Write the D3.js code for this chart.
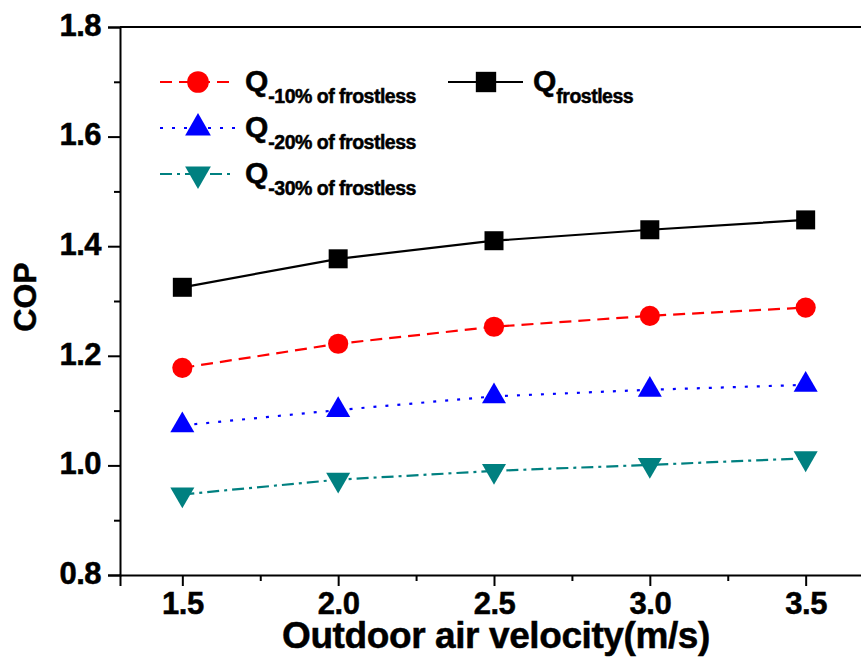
<!DOCTYPE html>
<html>
<head>
<meta charset="utf-8">
<script src="https://cdn.jsdelivr.net/npm/d3@7/dist/d3.min.js"></script>
<style>
  html, body { margin: 0; padding: 0; background: #fff; }
  svg { display: block; font-family: "Liberation Sans", Arial, sans-serif; }
  text { stroke: currentColor; stroke-width: 0.5px; }
</style>
</head>
<body>
<svg id="chart" width="861" height="660"></svg>
<script>
// Outdoor air velocity (m/s)
const velocity = [1.5, 2.0, 2.5, 3.0, 3.5];
// COP for each heat-capacity case
const copFrostless = [1.325, 1.377, 1.410, 1.430, 1.448];
const cop10 = [1.178, 1.222, 1.253, 1.273, 1.288];
const cop20 = [1.073, 1.101, 1.126, 1.138, 1.147];
const cop30 = [0.947, 0.974, 0.990, 1.001, 1.013];

const xTicks = [1.5, 2.0, 2.5, 3.0, 3.5];
const xMinorTicks = [1.75, 2.25, 2.75, 3.25];
const yTicks = [0.8, 1.0, 1.2, 1.4, 1.6, 1.8];
const yMinorTicks = [0.9, 1.1, 1.3, 1.5, 1.7];

const seriesNames = ["-10% of frostless", "-20% of frostless", "-30% of frostless", "frostless"];

const svg = d3.select("#chart");
const plotLeft = 120, plotRight = 868, plotTop = 27, plotBottom = 575;

const x = d3.scaleLinear().domain([1.3, 3.7]).range([plotLeft, plotRight]);
const y = d3.scaleLinear().domain([0.8, 1.8]).range([plotBottom, plotTop]);

const series = [
  { values: cop10, color: "#ff0000", dash: "12,7", symbol: d3.symbolCircle, size: 320, rotate: 0, name: seriesNames[0] },
  { values: cop20, color: "#0000ff", dash: "3,9", symbol: d3.symbolTriangle, size: 250, rotate: 0, name: seriesNames[1] },
  { values: cop30, color: "#008080", dash: "12,5,3,5", symbol: d3.symbolTriangle, size: 250, rotate: 180, name: seriesNames[2] },
  { values: copFrostless, color: "#000000", dash: null, symbol: d3.symbolSquare, size: 361, rotate: 0, name: seriesNames[3] }
];

// Frame: top line and axes
svg.append("line").attr("x1", plotLeft).attr("x2", plotRight).attr("y1", plotTop).attr("y2", plotTop)
  .attr("stroke", "#000").attr("stroke-width", 2);

const xAxis = svg.append("g").attr("transform", `translate(0,${plotBottom})`)
  .call(d3.axisBottom(x).tickValues(xTicks).tickSize(11).tickPadding(8).tickFormat(d3.format(".1f")));
const xMinor = svg.append("g").attr("transform", `translate(0,${plotBottom})`)
  .call(d3.axisBottom(x).tickValues(xMinorTicks).tickSize(6).tickFormat(""));
const yAxis = svg.append("g").attr("transform", `translate(${plotLeft},0)`)
  .call(d3.axisLeft(y).tickValues(yTicks).tickSize(12).tickPadding(7).tickFormat(d3.format(".1f")));
const yMinor = svg.append("g").attr("transform", `translate(${plotLeft},0)`)
  .call(d3.axisLeft(y).tickValues(yMinorTicks).tickSize(6).tickFormat(""));

[xAxis, xMinor, yAxis, yMinor].forEach(g => {
  g.select(".domain").attr("stroke", "#000").attr("stroke-width", 2);
  g.selectAll(".tick line").attr("stroke", "#000").attr("stroke-width", 2);
});
[xMinor, yMinor].forEach(g => g.select(".domain").remove());

xAxis.selectAll(".tick text")
  .attr("font-size", 31).attr("font-weight", "bold").attr("fill", "#000").attr("color", "#000")
  .attr("font-family", "Liberation Sans, Arial, sans-serif")
  .attr("letter-spacing", -0.5)
  .attr("dy", null).attr("y", 39);
yAxis.selectAll(".tick text")
  .attr("font-size", 31).attr("font-weight", "bold").attr("fill", "#000").attr("color", "#000")
  .attr("font-family", "Liberation Sans, Arial, sans-serif")
  .attr("letter-spacing", -0.5)
  .attr("dy", "0.27em");

// Axis titles
svg.append("text").attr("x", 496).attr("y", 648).attr("text-anchor", "middle")
  .attr("font-size", 37).attr("font-weight", "bold").attr("letter-spacing", -0.4)
  .text("Outdoor air velocity(m/s)");
svg.append("text").attr("transform", "translate(36,297) rotate(-90)").attr("text-anchor", "middle")
  .attr("font-size", 32).attr("font-weight", "bold").text("COP");

// Lines and markers
const line = d3.line().x((d, i) => x(velocity[i])).y(d => y(d));
series.forEach(s => {
  svg.append("path").datum(s.values).attr("d", line)
    .attr("fill", "none").attr("stroke", s.color).attr("stroke-width", 2.2)
    .attr("stroke-dasharray", s.dash);
  svg.selectAll(null).data(s.values).enter().append("path")
    .attr("d", d3.symbol().type(s.symbol).size(s.size))
    .attr("transform", (d, i) => `translate(${x(velocity[i])},${y(d)}) rotate(${s.rotate})`)
    .attr("fill", s.color);
});

// Legend
const legendItems = [
  { s: series[0], lx: 160, ly: 82 },
  { s: series[1], lx: 160, ly: 128 },
  { s: series[2], lx: 160, ly: 174 },
  { s: series[3], lx: 448, ly: 82 }
];
legendItems.forEach(({ s, lx, ly }) => {
  const g = svg.append("g");
  g.append("line").attr("x1", lx).attr("x2", lx + 75).attr("y1", ly).attr("y2", ly)
    .attr("stroke", s.color).attr("stroke-width", 2.2).attr("stroke-dasharray", s.dash);
  g.append("path").attr("d", d3.symbol().type(s.symbol).size(s.size * 1.15))
    .attr("transform", `translate(${lx + 38},${ly}) rotate(${s.rotate})`)
    .attr("fill", s.color);
  const t = g.append("text").attr("x", lx + 85).attr("y", ly + 9).attr("font-weight", "bold");
  t.append("tspan").attr("font-size", 30).text("Q");
  t.append("tspan").attr("font-size", 19.5).attr("dy", 12).attr("letter-spacing", -0.5).text(s.name);
});
</script>
</body>
</html>
